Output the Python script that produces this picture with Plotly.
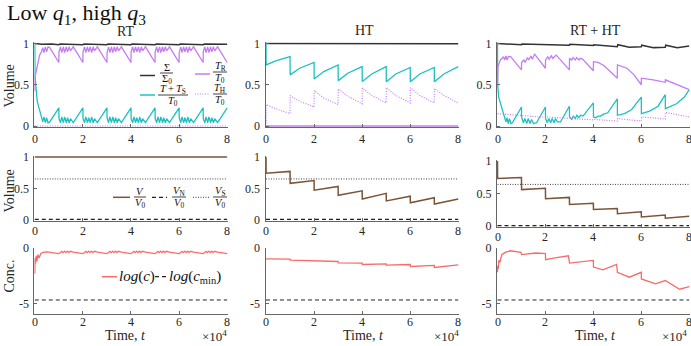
import plotly.graph_objects as go

W, H = 691, 346
FONT = "Liberation Serif"

# ---------------- data (time in units of 1e4) ----------------
# RT column, top row
rt_t = [0, 0.01, 0.1, 0.2, 0.28, 0.33, 0.38, 0.44, 0.49, 0.55, 0.62, 1.0,
        1.005, 1.07, 1.12, 1.19, 1.24, 1.31, 1.36, 1.43, 1.48, 1.6, 2.0,
        2.005, 2.07, 2.12, 2.19, 2.24, 2.31, 2.36, 2.43, 2.48, 2.6, 3.0,
        3.005, 3.07, 3.12, 3.19, 3.24, 3.31, 3.36, 3.43, 3.48, 3.6, 4.0,
        4.005, 4.07, 4.12, 4.19, 4.24, 4.31, 4.36, 4.43, 4.48, 4.6, 5.0,
        5.005, 5.07, 5.12, 5.19, 5.24, 5.31, 5.36, 5.43, 5.48, 5.6, 6.0,
        6.005, 6.07, 6.12, 6.19, 6.24, 6.31, 6.36, 6.43, 6.48, 6.6, 7.0,
        7.005, 7.07, 7.12, 7.19, 7.24, 7.31, 7.36, 7.43, 7.48, 7.6, 8.0]
rt_cyan = [1.0, 0.6, 0.3, 0.19, 0.13, 0.05, 0.11, 0.04, 0.10, 0.04, 0.05, 0.22,
           0.09, 0.04, 0.11, 0.04, 0.11, 0.04, 0.10, 0.04, 0.09, 0.04, 0.22,
           0.09, 0.04, 0.11, 0.04, 0.10, 0.04, 0.11, 0.04, 0.09, 0.04, 0.22,
           0.10, 0.04, 0.11, 0.04, 0.11, 0.04, 0.10, 0.04, 0.09, 0.04, 0.22,
           0.09, 0.04, 0.11, 0.04, 0.10, 0.04, 0.11, 0.04, 0.09, 0.04, 0.22,
           0.09, 0.04, 0.11, 0.04, 0.11, 0.04, 0.10, 0.04, 0.09, 0.04, 0.22,
           0.10, 0.04, 0.11, 0.04, 0.10, 0.04, 0.11, 0.04, 0.09, 0.04, 0.22,
           0.09, 0.04, 0.11, 0.04, 0.11, 0.04, 0.10, 0.04, 0.09, 0.04, 0.22]
rt_tr = [0.42, 0.6, 0.72, 0.86, 0.90, 0.95, 0.89, 0.96, 0.90, 0.96, 0.95, 0.77,
         0.90, 0.96, 0.89, 0.96, 0.89, 0.96, 0.90, 0.96, 0.91, 0.96, 0.77,
         0.90, 0.96, 0.89, 0.96, 0.90, 0.96, 0.89, 0.96, 0.91, 0.96, 0.77,
         0.89, 0.96, 0.89, 0.96, 0.89, 0.96, 0.90, 0.96, 0.91, 0.96, 0.77,
         0.90, 0.96, 0.89, 0.96, 0.90, 0.96, 0.89, 0.96, 0.91, 0.96, 0.77,
         0.90, 0.96, 0.89, 0.96, 0.89, 0.96, 0.90, 0.96, 0.91, 0.96, 0.77,
         0.89, 0.96, 0.89, 0.96, 0.90, 0.96, 0.89, 0.96, 0.91, 0.96, 0.77,
         0.90, 0.96, 0.89, 0.96, 0.89, 0.96, 0.90, 0.96, 0.91, 0.96, 0.77]
rt_sigma_t = [0, 0.3, 0.7, 1.0, 1.05, 1.5, 2.0, 2.05, 2.5, 3.0, 3.05, 3.5, 4.0, 4.05,
              4.5, 5.0, 5.05, 5.5, 6.0, 6.05, 6.5, 7.0, 7.05, 7.5, 8.0]
rt_sigma = [1.0, 0.99, 0.995, 0.985, 0.995, 0.99, 0.985, 0.995, 0.99, 0.985, 0.995,
            0.99, 0.985, 0.995, 0.99, 0.985, 0.995, 0.99, 0.985, 0.995, 0.99,
            0.985, 0.995, 0.99, 0.99]
rt_th_t = [0, 8]
rt_th = [0.0, 0.0]

# HT column, top row
ht_sigma_t = [0, 8]
ht_sigma = [1.0, 0.998]
ht_t = [0, 0.005, 0.4, 1.0, 1.005, 1.4, 2.0, 2.005, 2.4, 3.0, 3.005, 3.4, 4.0,
        4.005, 4.4, 5.0, 5.005, 5.4, 6.0, 6.005, 6.4, 7.0, 7.005, 7.4, 8.0]
ht_cyan = [1.0, 0.74, 0.79, 0.84, 0.62, 0.70, 0.77, 0.57, 0.66, 0.74, 0.55, 0.64,
           0.72, 0.54, 0.63, 0.72, 0.535, 0.63, 0.71, 0.535, 0.63, 0.71, 0.535,
           0.63, 0.72]
ht_th = [0.0, 0.26, 0.21, 0.15, 0.37, 0.30, 0.23, 0.43, 0.34, 0.26, 0.45, 0.36,
         0.27, 0.46, 0.37, 0.28, 0.465, 0.37, 0.28, 0.465, 0.37, 0.28, 0.455,
         0.37, 0.28]
ht_tr_t = [0, 8]
ht_tr = [0.0, 0.0]

# RT + HT column, top row
rht_sigma_t = [0, 0.5, 1, 1.02, 1.5, 2, 2.02, 2.5, 3, 3.02, 3.5, 4, 4.02, 4.5, 5,
               5.02, 5.5, 6, 6.02, 6.5, 7, 7.02, 7.5, 8]
rht_sigma = [1.0, 0.99, 0.985, 0.993, 0.99, 0.985, 0.993, 0.985, 0.98, 0.99, 0.985,
             0.975, 0.985, 0.97, 0.96, 0.985, 0.955, 0.96, 0.98, 0.95, 0.955,
             0.98, 0.95, 0.97]
rht_cyan_t = [0, 0.005, 0.05, 0.17, 0.28, 0.35, 0.4, 0.45, 0.5, 0.56, 0.62, 1.0,
              1.005, 1.08, 1.14, 1.22, 1.28, 1.36, 1.42, 1.5, 1.63, 2.0,
              2.005, 2.08, 2.14, 2.22, 2.28, 2.36, 2.42, 2.5, 2.63, 3.0,
              3.005, 3.1, 3.16, 3.25, 3.31, 3.4, 3.46, 3.57, 4.0,
              4.005, 4.1, 4.2, 4.3, 4.4, 4.6, 5.0,
              5.005, 5.3, 5.6, 6.0,
              6.005, 6.35, 6.7, 7.0,
              7.005, 7.47, 7.8, 8.0]
rht_cyan = [1.0, 0.5, 0.35, 0.23, 0.12, 0.05, 0.10, 0.03, 0.09, 0.03, 0.04, 0.23,
            0.11, 0.04, 0.09, 0.03, 0.09, 0.03, 0.08, 0.03, 0.04, 0.23,
            0.09, 0.04, 0.09, 0.04, 0.09, 0.04, 0.09, 0.05, 0.05, 0.24,
            0.11, 0.08, 0.12, 0.09, 0.13, 0.10, 0.13, 0.12, 0.28,
            0.11, 0.10, 0.12, 0.12, 0.14, 0.16, 0.33,
            0.13, 0.15, 0.20, 0.35,
            0.15, 0.18, 0.24, 0.38,
            0.21, 0.27, 0.35, 0.44]
rht_tr_t = [0, 0.02, 0.07, 0.12, 0.2, 0.25, 0.3, 0.35, 0.4, 0.45, 0.55, 1.0,
            1.005, 1.1, 1.15, 1.25, 1.3, 1.4, 1.45, 1.55, 2.0,
            2.005, 2.1, 2.15, 2.25, 2.3, 2.45, 3.0,
            3.005, 3.1, 3.15, 3.25, 3.3, 3.4, 3.45, 3.55, 4.0,
            4.005, 4.2, 4.45, 5.0,
            5.005, 5.4, 5.7, 6.0,
            6.005, 6.5, 7.0,
            7.005, 7.5, 8.0]
rht_tr = [0.47, 0.72, 0.76, 0.80, 0.82, 0.84, 0.80, 0.85, 0.80, 0.84, 0.84, 0.68,
          0.77, 0.80, 0.77, 0.83, 0.80, 0.85, 0.81, 0.87, 0.70,
          0.80, 0.84, 0.81, 0.85, 0.82, 0.86, 0.68,
          0.82, 0.80, 0.83, 0.80, 0.83, 0.80, 0.82, 0.81, 0.67,
          0.78, 0.77, 0.73, 0.58,
          0.74, 0.70, 0.62, 0.50,
          0.58, 0.56, 0.53,
          0.56, 0.50, 0.44]
rht_th_t = [0, 1.0, 1.005, 2.0, 2.005, 3.0, 3.005, 4.0, 4.005, 5.0, 5.005, 6.0,
            6.005, 7.0, 7.005, 8.0]
rht_th = [0.15, 0.125, 0.13, 0.105, 0.11, 0.09, 0.095, 0.075, 0.08, 0.06, 0.09,
          0.06, 0.11, 0.085, 0.165, 0.11]

# Volume row
vol_const_t = [0, 8]
rt_V = [1.0, 1.0]
rt_VN = [0.005, 0.005]
rt_VS = [0.65, 0.65]
vol_t = [0, 0.005, 1.0, 1.005, 2.0, 2.005, 3.0, 3.005, 4.0, 4.005, 5.0, 5.005,
         6.0, 6.005, 7.0, 7.005, 8.0]
ht_V = [1.0, 0.74, 0.77, 0.58, 0.625, 0.47, 0.53, 0.39, 0.46, 0.33, 0.42, 0.30,
        0.375, 0.27, 0.35, 0.25, 0.33]
ht_VN = [0.005, 0.005]
ht_VS = [0.65, 0.65]
rht_V = [1.0, 0.73, 0.745, 0.56, 0.58, 0.42, 0.44, 0.33, 0.35, 0.255, 0.27, 0.19,
         0.22, 0.14, 0.17, 0.12, 0.15]
rht_VN = [0.005, 0.005]
rht_VS = [0.64, 0.64]

# Concentration row (log c)
rt_c_t = [0, 0.01, 0.03, 0.06, 0.09, 0.13, 0.18, 0.25, 0.35, 0.5, 0.7, 1.0,
          1.05, 1.12, 1.17, 1.24, 1.29, 1.36, 1.41, 1.48, 1.6, 2.0,
          2.05, 2.12, 2.17, 2.24, 2.29, 2.36, 2.41, 2.48, 2.6, 3.0,
          3.05, 3.12, 3.17, 3.24, 3.29, 3.36, 3.41, 3.48, 3.6, 4.0,
          4.05, 4.12, 4.17, 4.24, 4.29, 4.36, 4.41, 4.48, 4.6, 5.0,
          5.05, 5.12, 5.17, 5.24, 5.29, 5.36, 5.41, 5.48, 5.6, 6.0,
          6.05, 6.12, 6.17, 6.24, 6.29, 6.36, 6.41, 6.48, 6.6, 7.0,
          7.05, 7.12, 7.17, 7.24, 7.29, 7.36, 7.41, 7.48, 7.6, 8.0]
rt_c = [-2.3, -0.9, -1.4, -0.7, -1.2, -0.6, -0.9, -0.5, -0.4, -0.35, -0.4, -0.5,
        -0.42, -0.3, -0.42, -0.28, -0.42, -0.28, -0.42, -0.3, -0.38, -0.5,
        -0.42, -0.3, -0.42, -0.28, -0.42, -0.28, -0.42, -0.3, -0.38, -0.5,
        -0.42, -0.3, -0.42, -0.28, -0.42, -0.28, -0.42, -0.3, -0.38, -0.5,
        -0.42, -0.3, -0.42, -0.28, -0.42, -0.28, -0.42, -0.3, -0.38, -0.5,
        -0.42, -0.3, -0.42, -0.28, -0.42, -0.28, -0.42, -0.3, -0.38, -0.5,
        -0.42, -0.3, -0.42, -0.28, -0.42, -0.28, -0.42, -0.3, -0.38, -0.5,
        -0.42, -0.3, -0.42, -0.28, -0.42, -0.28, -0.42, -0.3, -0.38, -0.5]
ht_c_t = [0, 1.0, 1.005, 2.0, 2.005, 3.0, 3.005, 4.0, 4.005, 5.0, 5.005, 6.0,
          6.005, 7.0, 7.005, 8.0]
ht_c = [-0.98, -1.01, -1.10, -1.16, -1.22, -1.22, -1.34, -1.37, -1.49, -1.43,
        -1.55, -1.49, -1.67, -1.58, -1.76, -1.52]
rht_c_t = [0, 0.01, 0.03, 0.06, 0.1, 0.18, 0.32, 0.53, 0.75, 0.98, 1.005, 1.3,
           1.6, 2.0, 2.005, 2.4, 2.96, 3.005, 3.3, 4.0, 4.005, 4.4, 4.97, 5.005,
           5.5, 6.0, 6.005, 6.6, 7.0, 7.3, 7.6, 8.0]
rht_c = [-2.2, -1.6, -1.9, -1.1, -1.3, -0.6, -0.4, -0.25, -0.32, -0.4, -0.6, -0.5,
         -0.45, -0.5, -1.06, -0.9, -0.7, -1.36, -1.3, -1.12, -1.73, -1.97, -1.48,
         -2.2, -2.64, -2.2, -2.8, -3.24, -2.94, -3.3, -3.73, -3.5]
log_cmin = -4.7

x_ticks = [0, 2, 4, 6, 8]
x_tick_text = ["0", "2", "4", "6", "8"]
vol_ticks = [0, 0.5, 1]
vol_tick_text = ["0", "0.5", "1"]
conc_ticks = [-5, 0]
conc_tick_text = ["-5", "0"]

# ---------------- styling ----------------
C_SIG = "#333333"
C_CYAN = "#1EC0C0"
C_PURP = "#C47EF2"
C_BROWN = "#7A5538"
C_RED = "#F86B6B"
C_AX = "#666666"
TXT = "#262626"


def px(xp, yp):
    return xp / W, 1 - yp / H


def dom_x(p0, p8, lo, hi):
    s = (p8 - p0) / 8.0
    return [(p0 + lo * s) / W, (p0 + hi * s) / W]


def dom_y(v_top, p_top, v_bot, p_bot, lo, hi):
    s = (p_bot - p_top) / (v_top - v_bot)
    top = p_top - (hi - v_top) * s
    bot = p_bot + (v_bot - lo) * s
    return [1 - bot / H, 1 - top / H]


XLO, XHI = -0.02, 8.02
VLO, VHI = -0.015, 1.015
CLO, CHI = -6.0, 0.0

col_px = [(34.8, 227.2), (266.0, 458.3), (497.5, 689.2)]
row1_px = (43.5, 126.0)
row2_px = [(157.0, 219.7), (157.0, 219.7), (161.0, 226.0)]
row3_px = (248.0, 303.3)  # value 0 and value -5
# vertical centre (px) of x tick labels, per row / column
xlab_px = [[138.5, 138.5, 138.5], [230.5, 230.5, 237.0], [322.0, 322.0, 322.0]]

fig = go.Figure()

series = {
    1: [(rt_sigma_t, rt_sigma, C_SIG, 1.5, None), (rt_t, rt_cyan, C_CYAN, 1.3, None),
        (rt_t, rt_tr, C_PURP, 1.3, None), (rt_th_t, rt_th, C_PURP, 1.2, "1px,1.5px")],
    2: [(ht_sigma_t, ht_sigma, C_SIG, 1.5, None), (ht_t, ht_cyan, C_CYAN, 1.3, None),
        (ht_tr_t, ht_tr, C_PURP, 1.3, None), (ht_t, ht_th, C_PURP, 1.2, "1px,1.5px")],
    3: [(rht_sigma_t, rht_sigma, C_SIG, 1.5, None), (rht_cyan_t, rht_cyan, C_CYAN, 1.3, None),
        (rht_tr_t, rht_tr, C_PURP, 1.3, None), (rht_th_t, rht_th, C_PURP, 1.2, "1px,1.5px")],
    4: [(vol_const_t, rt_VS, "#444444", 1.0, "1px,1.5px"), (vol_const_t, rt_VN, "#222222", 1.2, "4px,3px"),
        (vol_const_t, rt_V, C_BROWN, 1.5, None)],
    5: [(vol_const_t, ht_VS, "#444444", 1.0, "1px,1.5px"), (vol_const_t, ht_VN, "#222222", 1.2, "4px,3px"),
        (vol_t, ht_V, C_BROWN, 1.5, None)],
    6: [(vol_const_t, rht_VS, "#444444", 1.0, "1px,1.5px"), (vol_const_t, rht_VN, "#222222", 1.2, "4px,3px"),
        (vol_t, rht_V, C_BROWN, 1.5, None)],
    7: [(vol_const_t, [log_cmin, log_cmin], "#222222", 1.0, "4px,3px"), (rt_c_t, rt_c, C_RED, 1.3, None)],
    8: [(vol_const_t, [log_cmin, log_cmin], "#222222", 1.0, "4px,3px"), (ht_c_t, ht_c, C_RED, 1.3, None)],
    9: [(vol_const_t, [log_cmin, log_cmin], "#222222", 1.0, "4px,3px"), (rht_c_t, rht_c, C_RED, 1.3, None)],
}

for k, lst in series.items():
    sfx = "" if k == 1 else str(k)
    for (xs, ys, col, w, dash) in lst:
        line = dict(color=col, width=w)
        if dash:
            line["dash"] = dash
        fig.add_trace(go.Scatter(x=xs, y=ys, mode="lines", line=line,
                                 xaxis="x" + sfx, yaxis="y" + sfx,
                                 showlegend=False, hoverinfo="skip"))

axis_common = dict(showline=True, linecolor=C_AX, linewidth=1, ticks="inside",
                   ticklen=3, tickwidth=1, tickcolor=C_AX, showgrid=False,
                   zeroline=False, mirror=False, automargin=False,
                   tickfont=dict(family=FONT, size=12, color=TXT))

annotations = []


def text(xp, yp, s, size, xanchor="center", angle=0, color=TXT):
    x, y = px(xp, yp)
    annotations.append(dict(x=x, y=y, xref="paper", yref="paper", text=s,
                            showarrow=False, xanchor=xanchor, yanchor="middle",
                            textangle=angle, borderpad=0,
                            font=dict(family=FONT, size=size, color=color)))


layout = {}
for r in range(3):
    for c in range(3):
        k = r * 3 + c + 1
        sfx = "" if k == 1 else str(k)
        p0, p8 = col_px[c]
        xa = dict(axis_common, domain=dom_x(p0, p8, XLO, XHI), range=[XLO, XHI],
                  tickvals=x_ticks, showticklabels=False, anchor="y" + sfx)
        if r == 0:
            ya = dict(axis_common, domain=dom_y(1, row1_px[0], 0, row1_px[1], VLO, VHI),
                      range=[VLO, VHI], tickvals=vol_ticks, ticktext=vol_tick_text)
        elif r == 1:
            pt, pb = row2_px[c]
            ya = dict(axis_common, domain=dom_y(1, pt, 0, pb, VLO, VHI),
                      range=[VLO, VHI], tickvals=vol_ticks, ticktext=vol_tick_text)
        else:
            ya = dict(axis_common, domain=dom_y(0, row3_px[0], -5, row3_px[1], CLO, CHI),
                      range=[CLO, CHI], tickvals=conc_ticks, ticktext=conc_tick_text)
        ya["anchor"] = "x" + sfx
        ya["ticklabelstandoff"] = 2
        layout["xaxis" + sfx] = xa
        layout["yaxis" + sfx] = ya
        # x tick labels placed on the axis' own scale
        for v, lab in zip(x_ticks, x_tick_text):
            annotations.append(dict(x=v, y=1 - xlab_px[r][c] / H, xref="x" + sfx,
                                    yref="paper", text=lab, showarrow=False,
                                    xanchor="center", yanchor="middle", borderpad=0,
                                    font=dict(family=FONT, size=12, color=TXT)))

shapes = []


def seg(x0, x1, yp, color, width, dash=None):
    a0, b = px(x0, yp)
    a1, _ = px(x1, yp)
    ln = dict(color=color, width=width)
    if dash:
        ln["dash"] = dash
    shapes.append(dict(type="line", xref="paper", yref="paper", x0=a0, x1=a1,
                       y0=b, y1=b, line=ln))


def frac(xc, y_bar, num, den, half, size=10.5):
    text(xc, y_bar - 5.8, num, size, color="#111111")
    text(xc, y_bar + 6.2, den, size, color="#111111")
    seg(xc - half, xc + half, y_bar, "#111111", 0.8)


# titles
text(6, 14, "Low <i>q</i><sub>1</sub>, high <i>q</i><sub>3</sub>", 22, xanchor="left", color="#111111")
text(125, 31, "RT", 14)
text(364, 30, "HT", 14)
text(595, 30, "RT + HT", 14)
text(8.5, 86, "Volume", 14, angle=-90)
text(8.5, 191, "Volume", 14, angle=-90)
text(8.5, 276, "Conc.", 14, angle=-90)
for xc in (125, 363, 595):
    text(xc, 335, "Time, <i>t</i>", 14)
for xc in (214, 446, 674):
    text(xc, 336, "×10<sup>4</sup>", 13)

# legend: top row
seg(140, 155, 75.5, C_SIG, 1.5)
frac(166.5, 73.0, "Σ", "Σ<sub>0</sub>", 6.5)
seg(195, 210, 74, C_PURP, 1.5)
frac(220, 72.0, "<i>T</i><sub>R</sub>", "<i>T</i><sub>0</sub>", 7)
seg(140, 155, 95, C_CYAN, 1.5)
frac(173, 95.0, "<i>T</i>\u2009+\u2009<i>T</i><sub>S</sub>", "<i>T</i><sub>0</sub>", 15)
seg(195, 210, 94, C_PURP, 1.2, "1px,1.5px")
frac(220, 94.0, "<i>T</i><sub>H</sub>", "<i>T</i><sub>0</sub>", 7)

# legend: volume row
seg(113, 130, 197.3, C_BROWN, 1.5)
frac(140, 197, "<i>V</i>", "<i>V</i><sub>0</sub>", 6)
seg(152, 167, 197.3, "#222222", 1.2, "4px,3px")
frac(179, 197, "<i>V</i><sub>N</sub>", "<i>V</i><sub>0</sub>", 7)
seg(193, 210, 197.3, "#444444", 1.0, "1px,1.5px")
frac(220, 197, "<i>V</i><sub>S</sub>", "<i>V</i><sub>0</sub>", 7)

# legend: concentration row
seg(102, 117, 276.7, C_RED, 1.5)
text(118, 276.7, "<i>log</i>(<i>c</i>)", 15, xanchor="left", color="#111111")
seg(155, 167, 276.7, "#222222", 1.2, "4px,3px")
text(168, 276.7, "<i>log</i>(<i>c</i><sub>min</sub>)", 15, xanchor="left", color="#111111")

fig.update_layout(width=W, height=H, margin=dict(l=0, r=0, t=0, b=0, autoexpand=False),
                  paper_bgcolor="white", plot_bgcolor="white",
                  showlegend=False, annotations=annotations, shapes=shapes,
                  font=dict(family=FONT, size=12, color=TXT), **layout)

fig.write_html("out.html")
